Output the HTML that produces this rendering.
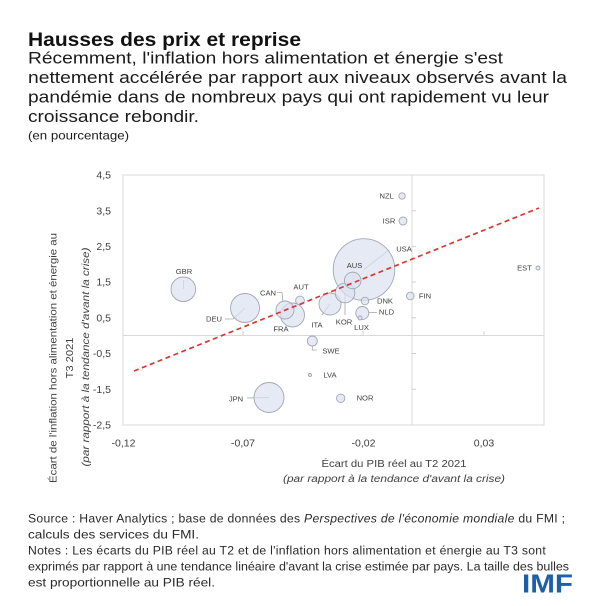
<!DOCTYPE html>
<html><head><meta charset="utf-8"><style>
html,body{margin:0;padding:0;background:#fff;}
svg{display:block;}
</style></head><body>
<svg width="600" height="606" viewBox="0 0 600 606" xmlns="http://www.w3.org/2000/svg" font-family="'Liberation Sans', Arial, sans-serif">
<rect width="600" height="606" fill="#fff"/>
<!-- Header -->
<text x="28" y="46" font-size="19" font-weight="bold" fill="#111" textLength="273" lengthAdjust="spacingAndGlyphs">Hausses des prix et reprise</text>
<g font-size="17" fill="#1a1a1a">
<text x="28" y="63.5" textLength="475" lengthAdjust="spacingAndGlyphs">Récemment, l'inflation hors alimentation et énergie s'est</text>
<text x="28" y="83" textLength="539" lengthAdjust="spacingAndGlyphs">nettement accélérée par rapport aux niveaux observés avant la</text>
<text x="28" y="102.5" textLength="521" lengthAdjust="spacingAndGlyphs">pandémie dans de nombreux pays qui ont rapidement vu leur</text>
<text x="28" y="122" textLength="171" lengthAdjust="spacingAndGlyphs">croissance rebondir.</text>
</g>
<text x="28" y="139.5" font-size="12" fill="#1a1a1a" textLength="101" lengthAdjust="spacingAndGlyphs">(en pourcentage)</text>

<!-- Plot frame -->
<rect x="123" y="175" width="421" height="250" fill="none" stroke="#d9d9d9" stroke-width="1"/>
<line x1="412" y1="175" x2="412" y2="425" stroke="#d9d9d9" stroke-width="1"/>
<line x1="123" y1="335.5" x2="544" y2="335.5" stroke="#d9d9d9" stroke-width="1"/>
<g stroke="#d0d0d0" stroke-width="1">
<line x1="412" y1="210.7" x2="416" y2="210.7"/>
<line x1="412" y1="246.4" x2="416" y2="246.4"/>
<line x1="412" y1="282" x2="416" y2="282"/>
<line x1="412" y1="317.8" x2="416" y2="317.8"/>
<line x1="412" y1="353.5" x2="416" y2="353.5"/>
<line x1="412" y1="389.3" x2="416" y2="389.3"/>
<line x1="243" y1="331" x2="243" y2="335.5"/>
<line x1="363" y1="331" x2="363" y2="335.5"/>
<line x1="484" y1="331" x2="484" y2="335.5"/>
</g>

<!-- Y tick labels -->
<g font-size="10.5" fill="#404040" text-anchor="end">
<text x="111" y="178.7">4,5</text>
<text x="111" y="214.4">3,5</text>
<text x="111" y="250.1">2,5</text>
<text x="111" y="285.7">1,5</text>
<text x="111" y="321.5">0,5</text>
<text x="111" y="357.2">-0,5</text>
<text x="111" y="393">-1,5</text>
<text x="111" y="428.7">-2,5</text>
</g>
<!-- X tick labels -->
<g font-size="10.5" fill="#404040" text-anchor="middle">
<text x="123.5" y="446.5">-0,12</text>
<text x="243" y="446.5">-0,07</text>
<text x="363.5" y="446.5">-0,02</text>
<text x="484" y="446.5">0,03</text>
</g>

<!-- Axis titles -->
<text x="394" y="467" font-size="10" fill="#404040" text-anchor="middle" textLength="145" lengthAdjust="spacingAndGlyphs">Écart du PIB réel au T2 2021</text>
<text x="394" y="482" font-size="10" fill="#404040" font-style="italic" text-anchor="middle" textLength="222" lengthAdjust="spacingAndGlyphs">(par rapport à la tendance d'avant la crise)</text>
<g font-size="10" fill="#404040" text-anchor="middle">
<text transform="translate(56.5,358) rotate(-90)" textLength="250" lengthAdjust="spacingAndGlyphs">Écart de l'inflation hors alimentation et énergie au</text>
<text transform="translate(73,358) rotate(-90)" textLength="41" lengthAdjust="spacingAndGlyphs">T3 2021</text>
<text transform="translate(89,357) rotate(-90)" font-style="italic" textLength="219" lengthAdjust="spacingAndGlyphs">(par rapport à la tendance d'avant la crise)</text>
</g>

<!-- Leader lines -->
<g stroke="#a6a6a6" stroke-width="0.8" fill="none">
<line x1="183.5" y1="280" x2="183.5" y2="289"/>
<polyline points="225,319 233,319 245,308"/>
<polyline points="277,292.5 282,292.5 283,302"/>
<line x1="330" y1="304" x2="322" y2="315"/>
<line x1="345" y1="293" x2="345" y2="315"/>
<line x1="353" y1="271" x2="353" y2="280"/>
<line x1="364" y1="269.5" x2="389" y2="250"/>
<line x1="368.5" y1="312.5" x2="377" y2="312.5"/>
<polyline points="312.3,346 312.3,350 317,350"/>
<line x1="247" y1="398" x2="269" y2="397.5"/>
</g>

<!-- Bubbles -->
<g fill="#dce2f1" fill-opacity="0.72" stroke="#a3a7b3" stroke-width="0.9">
<circle cx="364" cy="269.5" r="30.8"/>
<circle cx="269" cy="397.5" r="15"/>
<circle cx="245" cy="308" r="14.5"/>
<circle cx="183.3" cy="289.3" r="12.3"/>
<circle cx="292.5" cy="315" r="12"/>
<circle cx="330" cy="304" r="11"/>
<circle cx="345" cy="293" r="9.8"/>
<circle cx="285" cy="310" r="9"/>
<circle cx="352.7" cy="280.5" r="8.3"/>
<circle cx="362.3" cy="313" r="6.5"/>
<circle cx="312.3" cy="341" r="5"/>
<circle cx="300" cy="300.5" r="4.4"/>
<circle cx="340.7" cy="398.3" r="4.2"/>
<circle cx="365" cy="301" r="3.8"/>
<circle cx="410.3" cy="296" r="3.8"/>
<circle cx="403" cy="221" r="4"/>
<circle cx="402" cy="196" r="3.2"/>
<circle cx="360" cy="318" r="2"/>
<circle cx="538" cy="268" r="2"/>
<circle cx="310" cy="375" r="1.5"/>
</g>

<!-- Trend line -->
<line x1="134" y1="371" x2="539" y2="208" stroke="#d63a32" stroke-width="1.7" stroke-dasharray="5,3.5"/>

<!-- Data labels -->
<g font-size="7.6" fill="#404040" text-anchor="middle">
<text x="184" y="273.8">GBR</text>
<text x="268" y="295.7">CAN</text>
<text x="214" y="321.7">DEU</text>
<text x="301" y="289.7">AUT</text>
<text x="281" y="331.7">FRA</text>
<text x="317" y="327.7">ITA</text>
<text x="344" y="324.7">KOR</text>
<text x="361.5" y="330.2">LUX</text>
<text x="354.5" y="267.8">AUS</text>
<text x="404" y="251.7">USA</text>
<text x="385" y="303.7">DNK</text>
<text x="386.5" y="314.7">NLD</text>
<text x="386.7" y="198.7">NZL</text>
<text x="389" y="223.7">ISR</text>
<text x="425" y="298.7">FIN</text>
<text x="524.5" y="270.7">EST</text>
<text x="331" y="353.7">SWE</text>
<text x="330" y="377.7">LVA</text>
<text x="365" y="400.7">NOR</text>
<text x="236" y="401.7">JPN</text>
</g>

<!-- Footer -->
<g font-size="12.2" fill="#2a2a2a">
<text x="28" y="522.5" letter-spacing="0.28">Source : Haver Analytics ;  base de données des <tspan font-style="italic">Perspectives de l'économie mondiale</tspan> du FMI ;</text>
<text x="28" y="538.5" textLength="171" lengthAdjust="spacingAndGlyphs">calculs des services du FMI.</text>
<text x="28" y="554.5" letter-spacing="0.28">Notes : Les écarts du PIB réel au T2 et de l'inflation hors alimentation et énergie au T3 sont</text>
<text x="28" y="570.5" textLength="541" lengthAdjust="spacingAndGlyphs">exprimés par rapport à une tendance linéaire d'avant la crise estimée par pays. La taille des bulles</text>
<text x="28" y="586.5" textLength="187" lengthAdjust="spacingAndGlyphs">est proportionnelle au PIB réel.</text>
</g>
<text x="522" y="592.5" font-size="26" font-weight="bold" fill="#1d5fa8" textLength="51" lengthAdjust="spacingAndGlyphs">IMF</text>
</svg>
</body></html>
